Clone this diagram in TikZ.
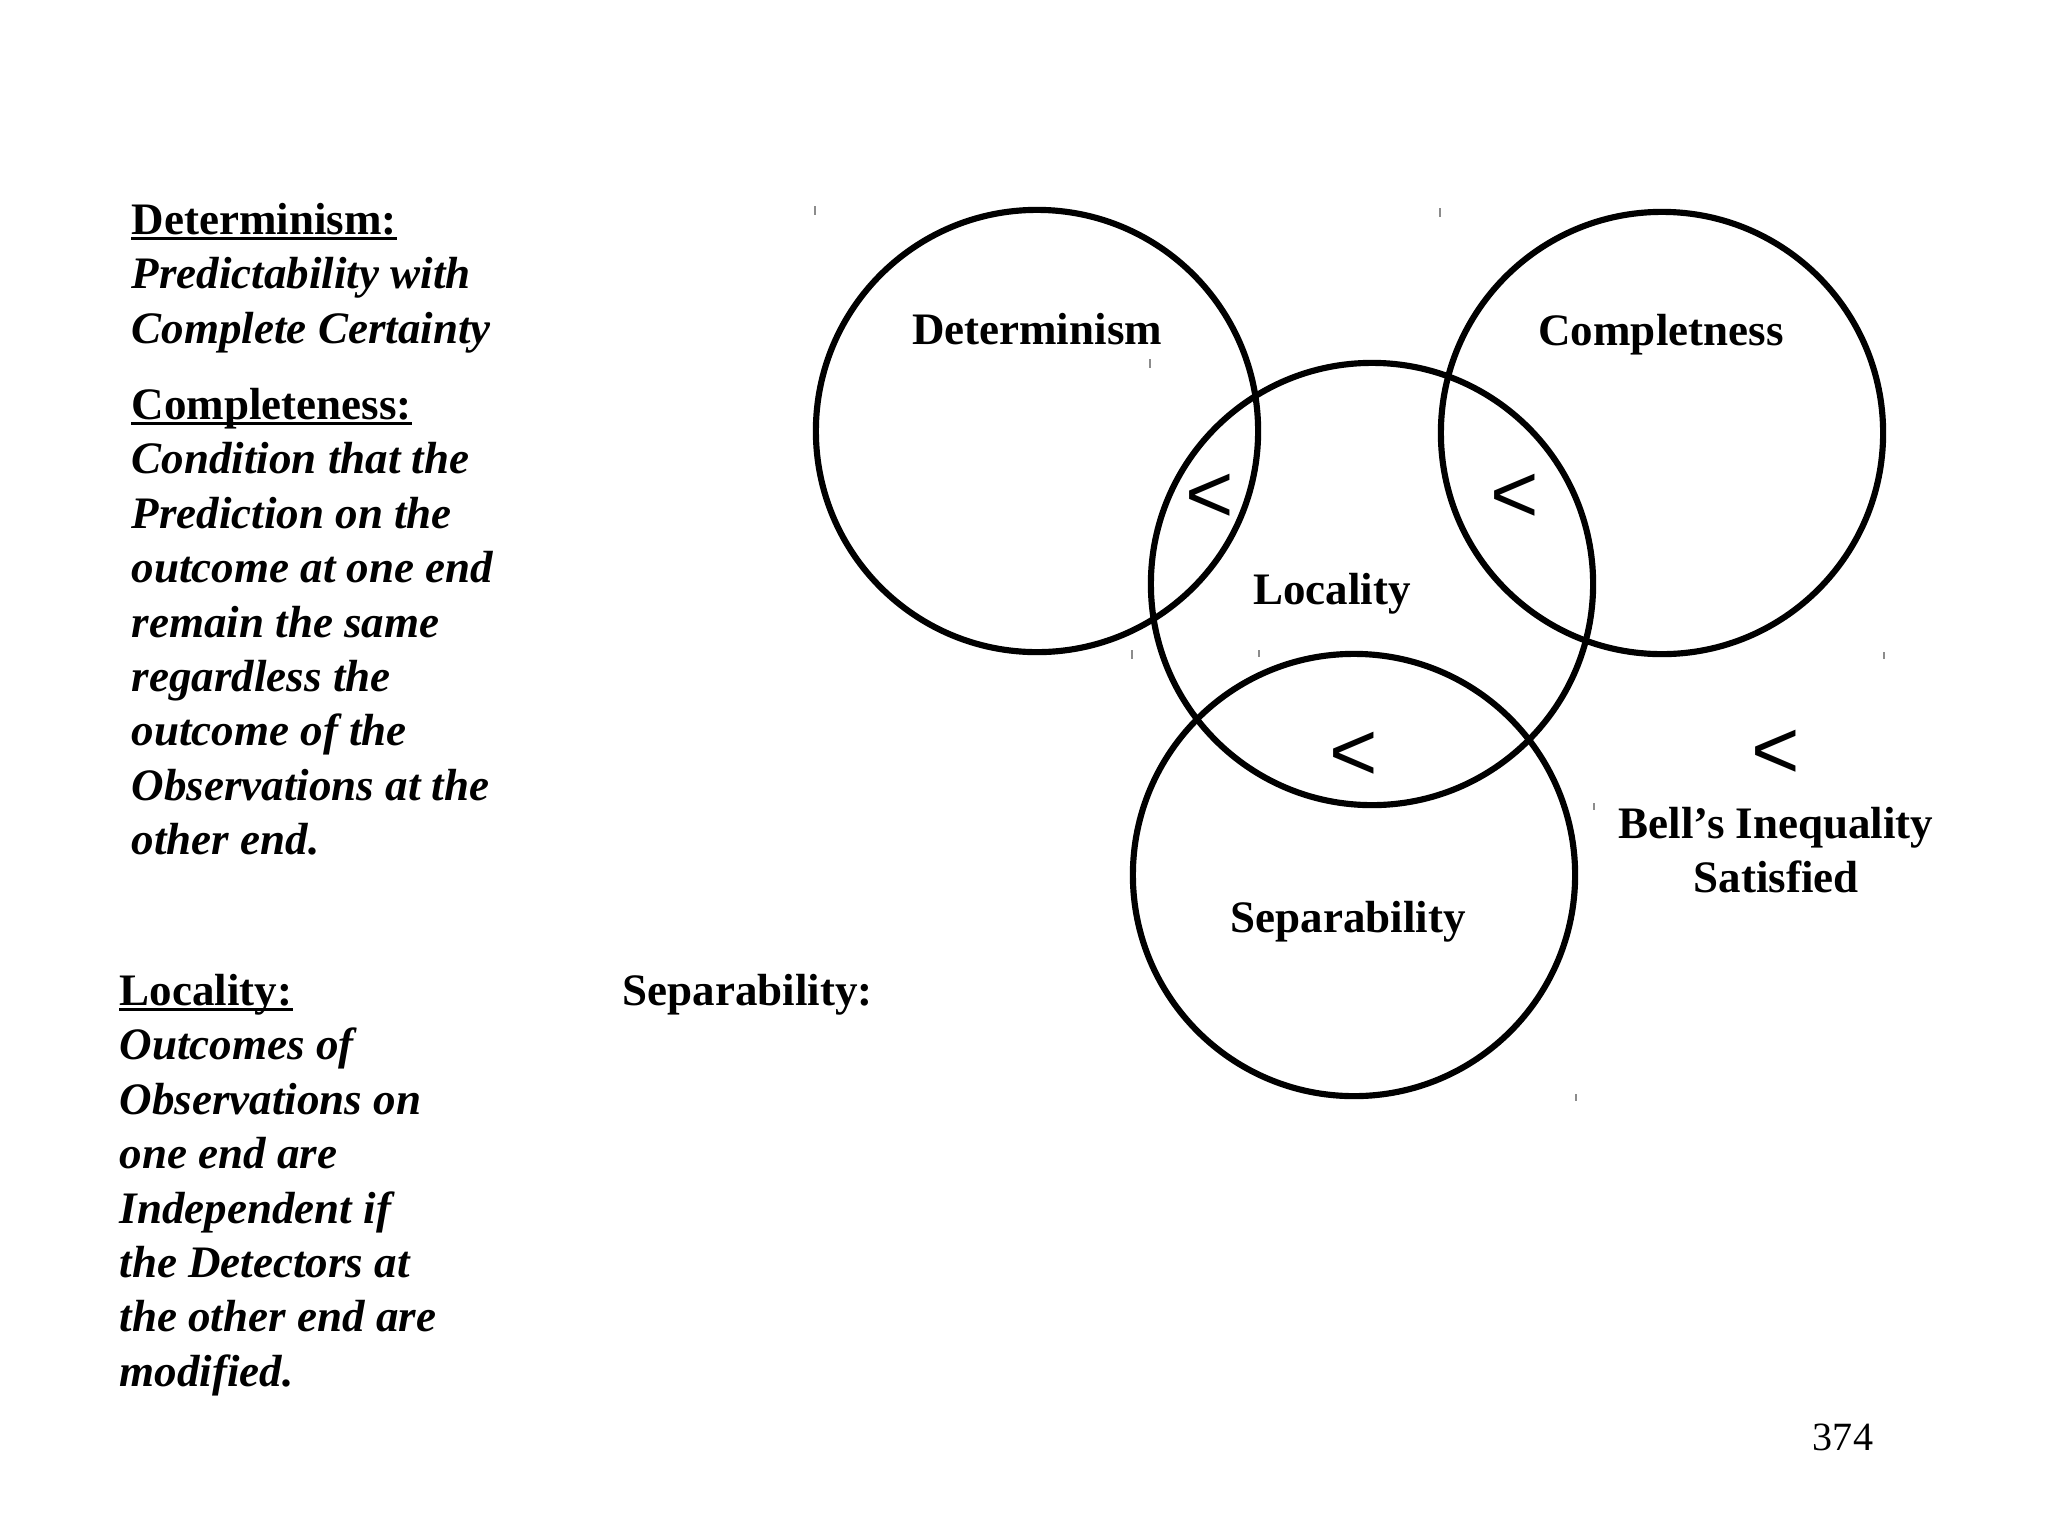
\documentclass[tikz,border=0pt]{standalone}
\usepackage{fontspec}
\setmainfont{Liberation Serif}
\newfontfamily\ltsans{Liberation Sans}
\begin{document}
\begin{tikzpicture}[x=0.01cm,y=-0.01cm,
  ring/.style={draw=black,line width=1.75pt,circle,minimum size=4.42cm,inner sep=0pt},
  lbl/.style={font=\fontsize{12.8}{15}\selectfont\bfseries,inner sep=0pt,anchor=base},
  headtxt/.style={font=\fontsize{12.8}{15}\selectfont\bfseries,inner sep=0pt,anchor=base west},
  deftxt/.style={font=\fontsize{12.8}{15}\selectfont\bfseries\itshape,inner sep=0pt,anchor=base west},
  ltsign/.style={font=\fontsize{23.6}{28}\selectfont\ltsans,inner sep=0pt,anchor=base},
  uline/.style={line width=0.85pt},
  tickmark/.style={draw=black!45,line width=0.45pt}]
\useasboundingbox[fill=white] (0,0) rectangle (2048,1536);

% circles
\node[ring] (det) at (1037,431) {};
\node[ring] (com) at (1662,433) {};
\node[ring] (loc) at (1372,584) {};
\node[ring] (sep) at (1354,875) {};

% small marks at bounding corners
\foreach \c in {det,com,loc,sep}{
  \draw[tickmark] ([shift={(-222,-225)}]\c.center) -- ([shift={(-222,-216)}]\c.center);
  \draw[tickmark] ([shift={(222,219)}]\c.center) -- ([shift={(222,226)}]\c.center);
}

% circle labels
\node[lbl] (ldet) at (1037,344) {Determinism};
\node[lbl] (lcom) at (1661,345) {Completness};
\node[lbl] (lloc) at (1332,604) {Locality};
\node[lbl] (lsep) at (1348,932) {Separability};
\node[lbl] (bell1) at (1776,838) {Bell’s Inequality};
\node[lbl] (bell2) at (1776,892) {Satisfied};

% inequality signs
\node[ltsign] (lt1) at (1210,522) {<};
\node[ltsign] (lt2) at (1515,522) {<};
\node[ltsign] (lt3) at (1354,780) {<};
\node[ltsign] (lt4) at (1776,778) {<};

% left block: Determinism / Completeness
\node[headtxt] (hdet) at (131,234) {Determinism:};
\draw[uline] ([yshift=-1.3pt]hdet.base west) -- ([yshift=-1.3pt]hdet.base east);
\foreach \t/\yy [count=\i] in {Predictability with/288,Complete Certainty/343}
  \node[deftxt,name=da\i] at (131,\yy) {\t};

\node[headtxt] (hcom) at (131,419) {Completeness:};
\draw[uline] ([yshift=-1.3pt]hcom.base west) -- ([yshift=-1.3pt]hcom.base east);
\foreach \t/\yy [count=\i] in {Condition that the/473,Prediction on the/528,outcome at one end/582,remain the same/637,regardless the/691,outcome of the/745,Observations at the/800,other end./854}
  \node[deftxt,name=db\i] at (131,\yy) {\t};

% left block: Locality
\node[headtxt] (hloc) at (119,1005) {Locality:};
\draw[uline] ([yshift=-1.3pt]hloc.base west) -- ([yshift=-1.3pt]hloc.base east);
\foreach \t/\yy [count=\i] in {Outcomes of/1059,Observations on/1114,one end are/1168,Independent if/1223,the Detectors at/1277,the other end are/1331,modified./1386}
  \node[deftxt,name=dc\i] at (119,\yy) {\t};

% Separability heading
\node[headtxt] (hsep) at (622,1005) {Separability:};

% page number
\node[font=\fontsize{11.4}{14}\selectfont,inner sep=0pt,anchor=base] (pg) at (1843,1450) {374};
\end{tikzpicture}
\end{document}
